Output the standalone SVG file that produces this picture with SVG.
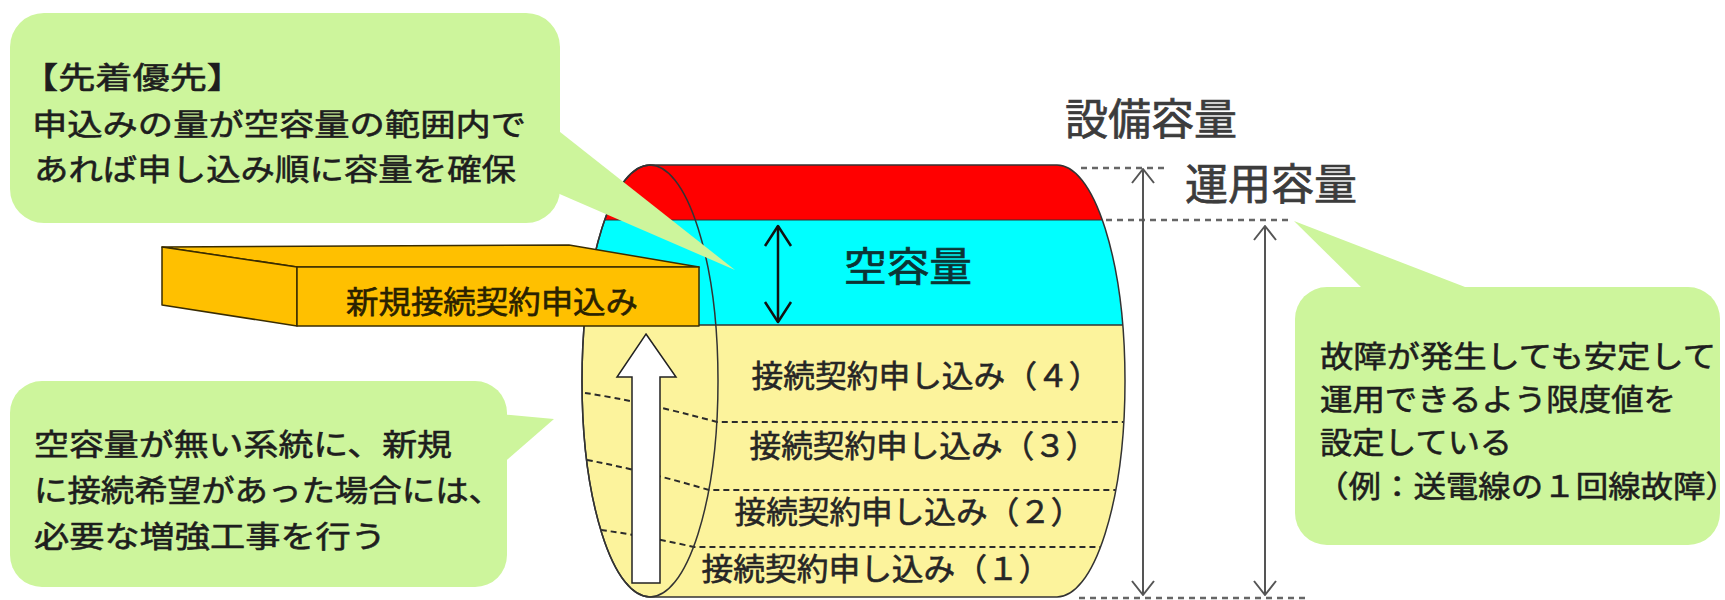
<svg xmlns="http://www.w3.org/2000/svg" width="1725" height="600" viewBox="0 0 1725 600">
  <style>
    text { font-family: "Noto Sans CJK JP", "Noto Sans CJK SC", sans-serif; }
    .note { fill: #cdf59c; }
    .note-text { font-size: 30px; fill: #1e1e1e; stroke: #1e1e1e; stroke-width: 0.6; }
    .row { font-size: 31px; fill: #262626; stroke: #262626; stroke-width: 0.6; }
    .cap { font-size: 43px; fill: #3c3c3c; stroke: #3c3c3c; stroke-width: 0.7; }
    .gap-label { font-size: 40px; fill: #0c3434; stroke: #0c3434; stroke-width: 0.7; }
    .bar-text { font-size: 31px; fill: #2a2200; stroke: #2a2200; stroke-width: 0.6; }
    .dash { fill: none; stroke: #2b2b2b; stroke-width: 2; stroke-dasharray: 6 4; }
    .guide { fill: none; stroke: #666; stroke-width: 2.5; stroke-dasharray: 6 5; }
    .dim { fill: none; stroke: #555; stroke-width: 2; marker-start: url(#dimHead); marker-end: url(#dimHead); }
    .gap { fill: none; stroke: #111; stroke-width: 2.5; marker-start: url(#gapHead); marker-end: url(#gapHead); }
    .edge { fill: none; stroke: #333; stroke-width: 1.5; }
    .bar { fill: #ffc000; stroke: #3a2c00; stroke-width: 1.5; stroke-linejoin: round; }
  </style>
  <defs>
    <clipPath id="drumClip">
      <path d="M650,165 H1057 A68,216 0 0 1 1057,597 H650 A68,216 0 0 1 650,165 Z"/>
    </clipPath>
    <marker id="dimHead" viewBox="0 0 16 24" refX="15" refY="12" markerWidth="16" markerHeight="24" markerUnits="userSpaceOnUse" orient="auto-start-reverse">
      <path d="M1,1 L15,12 L1,23" fill="none" stroke="#555" stroke-width="2" stroke-linejoin="round"/>
    </marker>
    <marker id="gapHead" viewBox="0 0 24 30" refX="22" refY="15" markerWidth="24" markerHeight="30" markerUnits="userSpaceOnUse" orient="auto-start-reverse">
      <path d="M2,2 L22,15 L2,28" fill="none" stroke="#111" stroke-width="2.5" stroke-linejoin="round"/>
    </marker>
  </defs>

  <!-- capacity drum: red = margin, cyan = free capacity, yellow = contracted -->
  <g id="drum">
    <g clip-path="url(#drumClip)">
      <rect x="560" y="160" width="600" height="60" fill="#ff0000"/>
      <rect x="560" y="220" width="600" height="105" fill="#00ffff"/>
      <rect x="560" y="325" width="600" height="280" fill="#fcf39c"/>
      <line x1="560" y1="220" x2="1160" y2="220" stroke="#333" stroke-width="1"/>
      <line x1="560" y1="325" x2="1160" y2="325" class="edge"/>
      <!-- layer separators: slanted on the end face, level on the body -->
      <path class="dash" d="M585,393 Q640,401 717,422 H1125"/>
      <path class="dash" d="M587,460 Q645,471 709,490 H1116"/>
      <path class="dash" d="M601,530 Q645,536 694,547 H1101"/>
    </g>
    <path class="edge" d="M650,165 H1057 A68,216 0 0 1 1057,597 H650 A68,216 0 0 1 650,165 Z"/>
    <ellipse class="edge" cx="650" cy="381" rx="68" ry="216"/>
    <text class="gap-label" x="844" y="281" textLength="128" lengthAdjust="spacingAndGlyphs">空容量</text>
    <text class="row" x="751.5" y="387" textLength="349" lengthAdjust="spacingAndGlyphs">接続契約申し込み（４）</text>
    <text class="row" x="749.5" y="457" textLength="348" lengthAdjust="spacingAndGlyphs">接続契約申し込み（３）</text>
    <text class="row" x="734.5" y="523" textLength="348" lengthAdjust="spacingAndGlyphs">接続契約申し込み（２）</text>
    <text class="row" x="701.5" y="580" textLength="349" lengthAdjust="spacingAndGlyphs">接続契約申し込み（１）</text>
  </g>

  <!-- upward block arrow on the end face -->
  <g id="growth-arrow">
    <path d="M646,334 L676,377 H660 V583 H632 V377 H617 Z" fill="#ffffff" stroke="#222" stroke-width="1.5" stroke-linejoin="miter"/>
  </g>

  <!-- new application bar -->
  <g id="new-application">
    <path class="bar" d="M162,247 L569,245 L699,267 L297,267 Z"/>
    <path class="bar" d="M162,247 L297,267 L297,326 L162,305 Z"/>
    <rect class="bar" x="297" y="267" width="402" height="59"/>
    <text class="bar-text" x="346" y="313" textLength="292" lengthAdjust="spacingAndGlyphs">新規接続契約申込み</text>
  </g>

  <!-- callout: first come, first served -->
  <g id="note-first-come">
    <rect class="note" x="10" y="13" width="550" height="210" rx="34"/>
    <path class="note" d="M555,128 L735,270 L555,192 Z"/>
    <text class="note-text" x="21" y="88" textLength="223" lengthAdjust="spacingAndGlyphs">【先着優先】</text>
    <text class="note-text" x="32" y="135" textLength="494" lengthAdjust="spacingAndGlyphs">申込みの量が空容量の範囲内で</text>
    <text class="note-text" x="34" y="180" textLength="482" lengthAdjust="spacingAndGlyphs">あれば申し込み順に容量を確保</text>
  </g>

  <!-- callout: reinforcement work -->
  <g id="note-reinforcement">
    <rect class="note" x="10" y="381" width="497" height="206" rx="32"/>
    <path class="note" d="M500,414 L554,419 L500,466 Z"/>
    <text class="note-text" x="34" y="455" textLength="418" lengthAdjust="spacingAndGlyphs">空容量が無い系統に、新規</text>
    <text class="note-text" x="34" y="501" textLength="468" lengthAdjust="spacingAndGlyphs">に接続希望があった場合には、</text>
    <text class="note-text" x="34" y="547" textLength="352" lengthAdjust="spacingAndGlyphs">必要な増強工事を行う</text>
  </g>

  <!-- callout: operating limit -->
  <g id="note-operating-limit">
    <rect class="note" x="1295" y="287" width="425" height="258" rx="32"/>
    <path class="note" d="M1366,292 L1294,221 L1478,292 Z"/>
    <text class="note-text" x="1320" y="367" textLength="396" lengthAdjust="spacingAndGlyphs">故障が発生しても安定して</text>
    <text class="note-text" x="1320" y="410" textLength="356" lengthAdjust="spacingAndGlyphs">運用できるよう限度値を</text>
    <text class="note-text" x="1320" y="453" textLength="192" lengthAdjust="spacingAndGlyphs">設定している</text>
    <text class="note-text" x="1316" y="497" textLength="422" lengthAdjust="spacingAndGlyphs">（例：送電線の１回線故障）</text>
  </g>

  <!-- capacity level labels -->
  <g id="label-equipment">
    <text class="cap" x="1065" y="135" textLength="172" lengthAdjust="spacingAndGlyphs">設備容量</text>
  </g>
  <g id="label-operating">
    <text class="cap" x="1185" y="200" textLength="172" lengthAdjust="spacingAndGlyphs">運用容量</text>
  </g>

  <!-- dimension guides and arrows -->
  <g id="connectors">
    <line class="guide" x1="1081" y1="168" x2="1166" y2="168"/>
    <line class="guide" x1="1106" y1="220" x2="1290" y2="220"/>
    <line class="guide" x1="1079" y1="598" x2="1309" y2="598"/>
    <line class="dim" x1="1143" y1="169" x2="1143" y2="595"/>
    <line class="dim" x1="1265" y1="226" x2="1265" y2="595"/>
    <line class="gap" x1="778" y1="226" x2="778" y2="322"/>
  </g>
</svg>
